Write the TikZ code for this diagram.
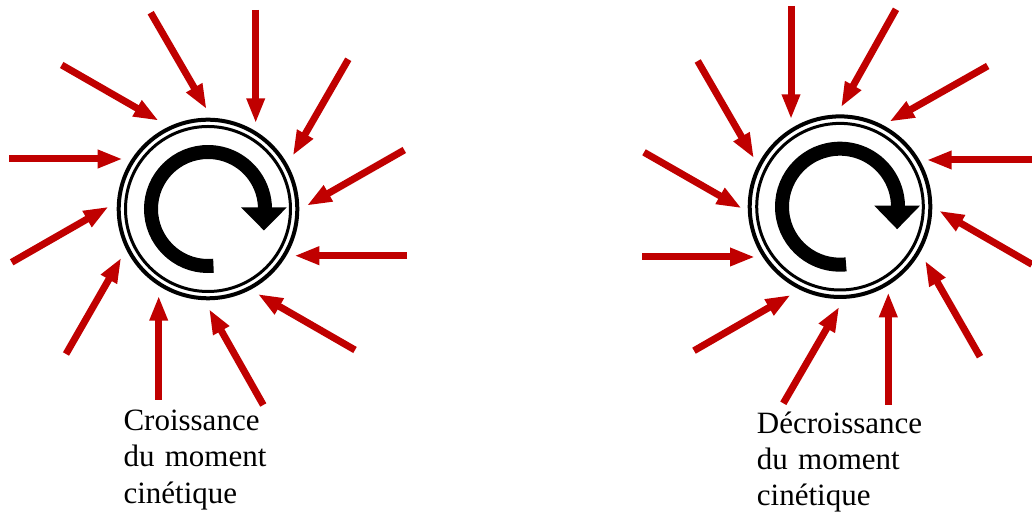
\documentclass[tikz,border=0pt]{standalone}
\usepackage{fontspec}
\setmainfont{Liberation Serif}
\usetikzlibrary{arrows.meta}
\definecolor{rouge}{HTML}{C00000}

\begin{document}
\begin{tikzpicture}[x=1pt, y=1pt,
    force/.style={draw=rouge, line width=7pt, -{Triangle[length=25pt, width=17pt]}},
    label/.style={font=\fontsize{31}{36.3}\selectfont, text width=200pt, align=left, anchor=base west, inner sep=0pt}]
  \useasboundingbox (0,0) rectangle (1032,513);

  % Croissance (left)
  \coordinate (c1) at (208,304);
  \draw[line width=4pt] (c1) circle (89.3);
  \draw[line width=3pt] (c1) circle (82.5);
  \draw[line width=14pt] (c1) ++(275.5:57) arc[start angle=275.5, end angle=0, radius=57];
  \fill (c1) ++(33.2,1.5) -- ++(45.5,0) -- ++(-22.75,-23) -- cycle;

  % forces, left
  \draw[force] (255.7,503) -- (255.7,389.7);
  \draw[force] (150.7,500.3) -- (206.7,403.7);
  \draw[force] (61.7,448) -- (158.7,392.3);
  \draw[force] (9.3,354) -- (122.7,354);
  \draw[force] (11.7,250.7) -- (108.7,306.3);
  \draw[force] (66,159) -- (121.3,255.3);
  \draw[force] (158.7,113) -- (158.7,217.3);
  \draw[force] (263.3,108) -- (209,204);
  \draw[force] (355,163) -- (257.7,219);
  \draw[force] (407,257.3) -- (294.3,257.3);
  \draw[force] (404.3,363) -- (306.7,307.3);
  \draw[force] (348.3,453.7) -- (292.7,357.3);

  \node[label] (t1) at (123.3,82.3) {Croissance\\du moment\\cinétique};

  % Decroissance (right)
  \coordinate (c2) at (840,306.3);
  \draw[line width=4pt] (c2) circle (90.3);
  \draw[line width=3pt] (c2) circle (83.3);
  \draw[line width=14pt] (c2) ++(276:58) arc[start angle=276, end angle=0, radius=58];
  \fill (c2) ++(34.3,1) -- ++(45.7,0) -- ++(-22.85,-23.5) -- cycle;

  % forces, right
  \draw[force] (791,507) -- (791,393.7);
  \draw[force] (896,503.7) -- (841,405.7);
  \draw[force] (987.7,447) -- (889.3,391.3);
  \draw[force] (1032,353) -- (926.7,353);
  \draw[force] (1032,248.6) -- (939,302.3);
  \draw[force] (980,156.3) -- (925,252.3);
  \draw[force] (888.3,108) -- (888.3,220.7);
  \draw[force] (783.3,109.7) -- (839.3,206.3);
  \draw[force] (694,162.3) -- (790.7,218);
  \draw[force] (642,256) -- (755,256);
  \draw[force] (644,360.7) -- (741.7,304.7);
  \draw[force] (697.7,452) -- (754,354.7);

  \node[label] (t2) at (756.7,79.7) {Décroissance\\du moment\\cinétique};
\end{tikzpicture}
\end{document}
